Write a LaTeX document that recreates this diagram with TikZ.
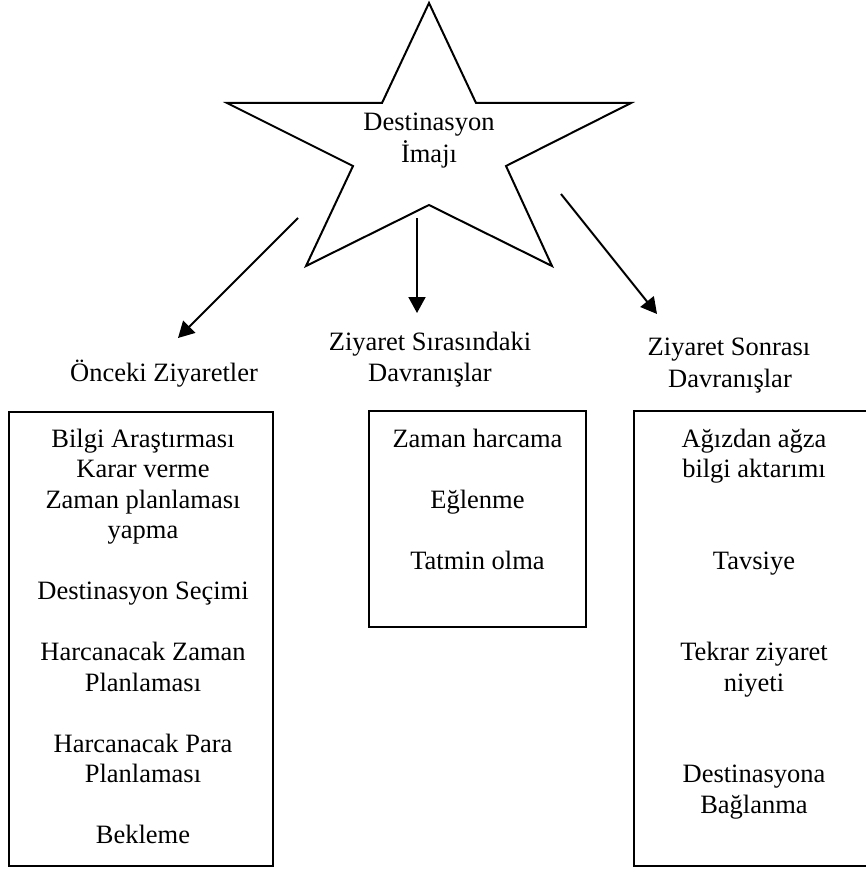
\documentclass[tikz,border=0pt]{standalone}
\usepackage{fontspec}
\setmainfont{Liberation Serif}
\usetikzlibrary{arrows.meta}
\newcommand{\myfs}{\fontsize{26.5pt}{30.5pt}\selectfont}
\begin{document}
\begin{tikzpicture}[x=1pt,y=-1pt,
  txt/.style={font=\myfs, inner sep=0pt, anchor=base},
  boxst/.style={draw, line width=2pt, inner sep=0pt},
  arr/.style={line width=2pt, -{Triangle[length=16pt,width=17pt]}},
  starline/.style={line width=2pt, line join=miter}]
\useasboundingbox (0,0) rectangle (865,872);
% star
\coordinate (s1) at (429,3);
\coordinate (s2) at (476,103);
\coordinate (s3) at (631,103);
\coordinate (s4) at (506,166);
\coordinate (s5) at (552,266);
\coordinate (s6) at (429,205);
\coordinate (s7) at (306,266);
\coordinate (s8) at (353,166);
\coordinate (s9) at (227,103);
\coordinate (s10) at (382,103);
\draw[starline] (s1) -- (s2) -- (s3) -- (s4) -- (s5) -- (s6) -- (s7) -- (s8) -- (s9) -- (s10) -- cycle;
\node[txt] (star1) at (429,131) {Destinasyon};
\node[txt] (star2) at (429,162) {İmajı};
% arrows
\coordinate (aLs) at (298,218);
\coordinate (aLe) at (178,338);
\coordinate (aMs) at (417,218);
\coordinate (aMe) at (417,313);
\coordinate (aRs) at (561,194);
\coordinate (aRe) at (657,314);
\draw[arr] (aLs) -- (aLe);
\draw[arr] (aMs) -- (aMe);
\draw[arr] (aRs) -- (aRe);
% headings
\node[txt] (hL) at (164,381) {Önceki Ziyaretler};
\node[txt] (hM1) at (430,350) {Ziyaret Sırasındaki};
\node[txt] (hM2) at (430,381) {Davranışlar};
\node[txt] (hR1) at (729,355) {Ziyaret Sonrası};
\node[txt] (hR2) at (730,387) {Davranışlar};
% boxes
\node[boxst, minimum width=264pt, minimum height=454pt] (boxL) at (141.3,639) {};
\node[boxst, minimum width=217pt, minimum height=216pt] (boxM) at (477.5,519) {};
\node[boxst, minimum width=240pt, minimum height=455pt] (boxR) at (754,638.5) {};
% left box text
\foreach \k/\t in {0/Bilgi Araştırması, 1/Karar verme, 2/Zaman planlaması, 3/yapma,
  5/Destinasyon Seçimi, 7/Harcanacak Zaman, 8/Planlaması, 10/Harcanacak Para,
  11/Planlaması, 13/Bekleme}
  \node[txt] (L\k) at (143,{447+30.5*\k}) {\t};
% middle box text
\foreach \k/\t in {0/Zaman harcama, 2/Eğlenme, 4/Tatmin olma}
  \node[txt] (M\k) at (477.5,{447+30.5*\k}) {\t};
% right box text
\foreach \k/\t in {0/Ağızdan ağza, 1/bilgi aktarımı, 4/Tavsiye, 7/Tekrar ziyaret,
  8/niyeti, 11/Destinasyona, 12/Bağlanma}
  \node[txt] (R\k) at (754,{447+30.5*\k}) {\t};
\end{tikzpicture}
\end{document}
